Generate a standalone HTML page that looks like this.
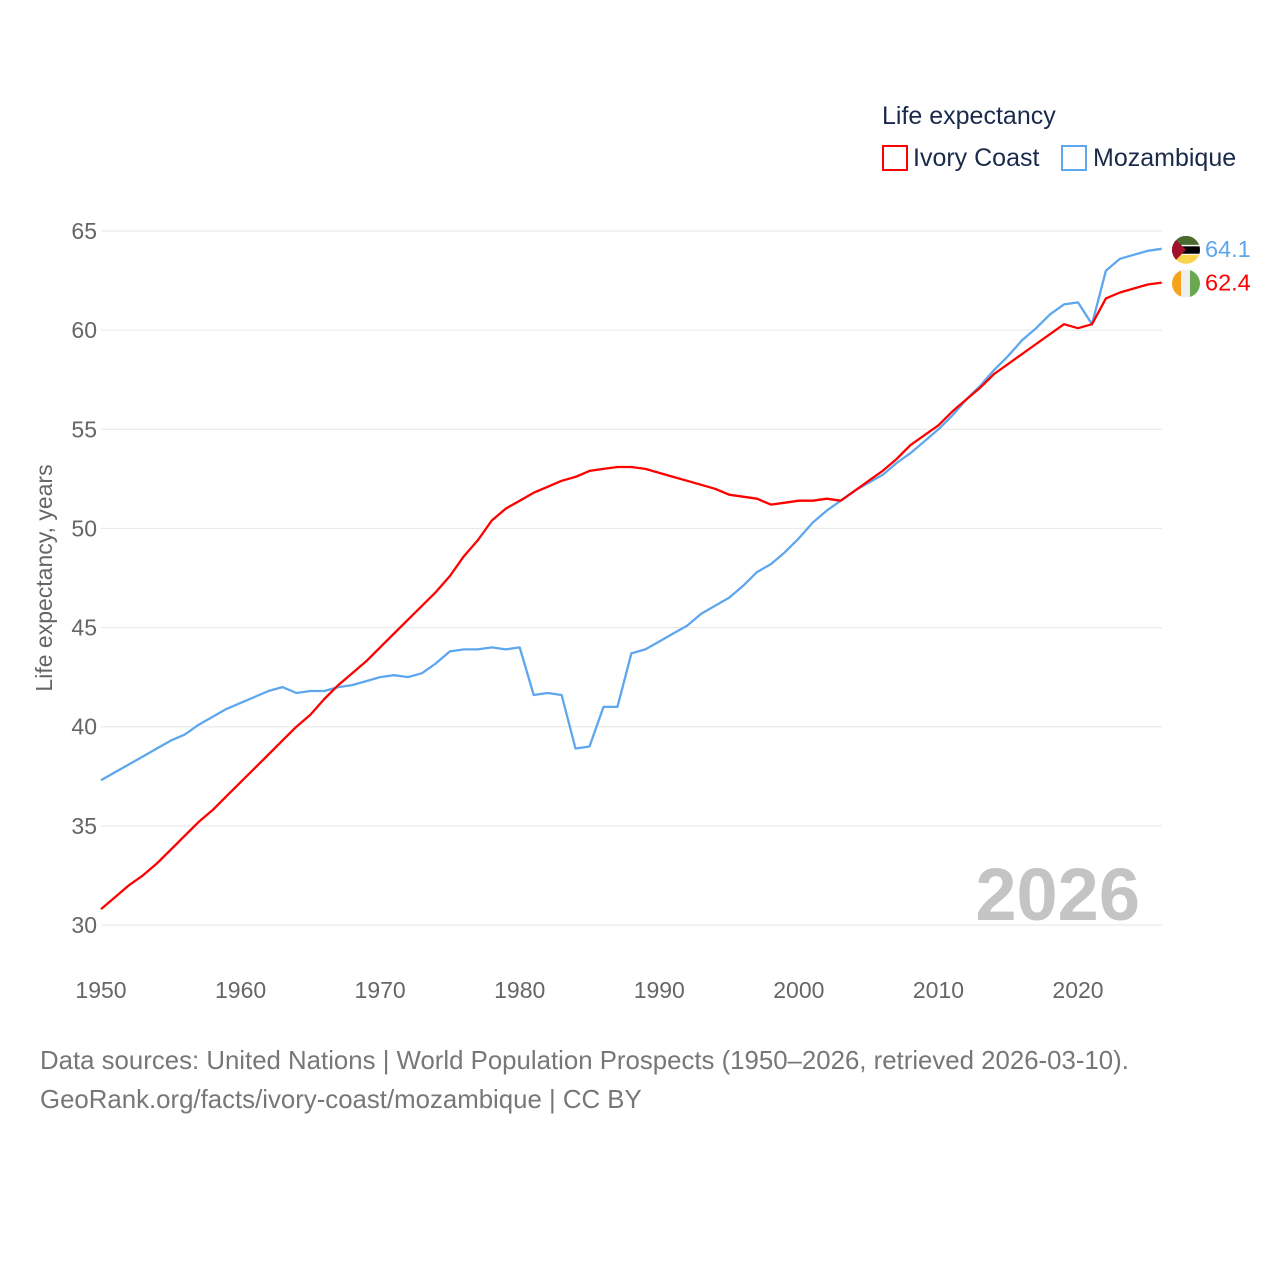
<!DOCTYPE html>
<html><head><meta charset="utf-8"><style>
body{margin:0;background:#fff;font-family:"Liberation Sans",sans-serif}
svg text{font-family:"Liberation Sans",sans-serif}
</style></head><body>
<svg id="c" width="1280" height="1280" xmlns="http://www.w3.org/2000/svg">
<rect width="1280" height="1280" fill="#fff"/>
<g id="grid"></g>
<g id="xt"></g>
<text x="52" y="578" transform="rotate(-90 52 578)" text-anchor="middle" font-size="23" fill="#666">Life expectancy, years</text>
<text x="1140" y="920" text-anchor="end" font-size="74" font-weight="bold" fill="#c4c4c4">2026</text>
<g id="lines"></g>
<text x="882" y="124" font-size="25" fill="#1a2a4a">Life expectancy</text>
<g><rect x="883" y="146" width="24" height="24" fill="none" stroke="#f00" stroke-width="2"/><text x="913" y="166" font-size="25" fill="#1a2a4a">Ivory Coast</text></g>
<g><rect x="1062" y="146" width="24" height="24" fill="none" stroke="#5ea7ee" stroke-width="2"/><text x="1093" y="166" font-size="25" fill="#1a2a4a">Mozambique</text></g>
<text x="40" y="1069" font-size="25.8" fill="#777">Data sources: United Nations | World Population Prospects (1950–2026, retrieved 2026-03-10).</text>
<text x="40" y="1108" font-size="25.8" fill="#777">GeoRank.org/facts/ivory-coast/mozambique | CC BY</text>
</svg>
<script>
const years=[];for(let y=1950;y<=2026;y++)years.push(y);
const ivoryCoast=[30.8,31.4,32.0,32.5,33.1,33.8,34.5,35.2,35.8,36.5,37.2,37.9,38.6,39.3,40.0,40.6,41.4,42.1,42.7,43.3,44.0,44.7,45.4,46.1,46.8,47.6,48.6,49.4,50.4,51.0,51.4,51.8,52.1,52.4,52.6,52.9,53.0,53.1,53.1,53.0,52.8,52.6,52.4,52.2,52.0,51.7,51.6,51.5,51.2,51.3,51.4,51.4,51.5,51.4,51.9,52.4,52.9,53.5,54.2,54.7,55.2,55.9,56.5,57.1,57.8,58.3,58.8,59.3,59.8,60.3,60.1,60.3,61.6,61.9,62.1,62.3,62.4];
const mozambique=[37.3,37.7,38.1,38.5,38.9,39.3,39.6,40.1,40.5,40.9,41.2,41.5,41.8,42.0,41.7,41.8,41.8,42.0,42.1,42.3,42.5,42.6,42.5,42.7,43.2,43.8,43.9,43.9,44.0,43.9,44.0,41.6,41.7,41.6,38.9,39.0,41.0,41.0,43.7,43.9,44.3,44.7,45.1,45.7,46.1,46.5,47.1,47.8,48.2,48.8,49.5,50.3,50.9,51.4,51.9,52.3,52.7,53.3,53.8,54.4,55.0,55.7,56.5,57.2,58.0,58.7,59.5,60.1,60.8,61.3,61.4,60.3,63.0,63.6,63.8,64.0,64.1];
const yTicks=[30,35,40,45,50,55,60,65];
const xTicks=[1950,1960,1970,1980,1990,2000,2010,2020];
const NS="http://www.w3.org/2000/svg";
const X=y=>101+(y-1950)*(1078-101)/70;
const Y=v=>925-(v-30)*(925-231)/35;
function mk(t,a,p){const e=document.createElementNS(NS,t);for(const k in a)e.setAttribute(k,a[k]);p.appendChild(e);return e;}
const grid=document.getElementById('grid');
yTicks.forEach(v=>{
  const l=mk('line',{x1:101,x2:1162,y1:Y(v),y2:Y(v),stroke:'#e6e6e6','stroke-width':1},grid);
  
  
  const t=mk('text',{x:97,y:Y(v)+8,'text-anchor':'end','font-size':23,fill:'#666'},grid);t.textContent=v;
  
  
});
const xt=document.getElementById('xt');
xTicks.forEach(v=>{
  const t=mk('text',{x:X(v),y:998,'text-anchor':'middle','font-size':23,fill:'#666'},xt);t.textContent=v;
  
  
});
const lines=document.getElementById('lines');
function series(arr,col,name){
  const d=arr.map((v,i)=>(i?'L':'M')+X(years[i]).toFixed(1)+','+Y(v).toFixed(1)).join('');
  const p=mk('path',{d:d,fill:'none',stroke:col,'stroke-width':2.3,'stroke-linejoin':'round'},lines);
  
  
}
series(mozambique,'#5ea7ee','mozambique');
series(ivoryCoast,'#f00','ivory-coast');
const lm=mozambique[mozambique.length-1], li=ivoryCoast[ivoryCoast.length-1];
const fm=mk('g',{},lines);


const cy1=Y(lm)+1;
const cpm=mk('clipPath',{id:'cm'},fm);mk('circle',{cx:1186,cy:cy1,r:14},cpm);
const gm=mk('g',{'clip-path':'url(#cm)'},fm);
mk('rect',{x:1172,y:cy1-14,width:28,height:10,fill:'#4a6b2e'},gm);
mk('rect',{x:1172,y:cy1-4,width:28,height:8,fill:'#000'},gm);
mk('rect',{x:1172,y:cy1-5,width:28,height:1.5,fill:'#fff'},gm);
mk('rect',{x:1172,y:cy1+4,width:28,height:1.5,fill:'#fff'},gm);
mk('rect',{x:1172,y:cy1+5,width:28,height:10,fill:'#fcd34d'},gm);
mk('polygon',{points:`1172,${cy1-14} 1186,${cy1} 1172,${cy1+14}`,fill:'#a0102a'},gm);
const tm=mk('text',{x:1205,y:Y(lm)+8,'font-size':23.5,fill:'#5ea7ee'},lines);tm.textContent=lm.toFixed(1);


const fi=mk('g',{},lines);


const cy2=Y(li)+1;
const cp=mk('clipPath',{id:'ci'},fi);mk('circle',{cx:1186,cy:cy2,r:14},cp);
const gi=mk('g',{'clip-path':'url(#ci)'},fi);
mk('rect',{x:1172,y:cy2-14,width:10,height:28,fill:'#f7a21b'},gi);
mk('rect',{x:1181,y:cy2-14,width:10,height:28,fill:'#eee'},gi);
mk('rect',{x:1190,y:cy2-14,width:10,height:28,fill:'#6aa84f'},gi);
const ti=mk('text',{x:1205,y:Y(li)+8,'font-size':23.5,fill:'#f00'},lines);ti.textContent=li.toFixed(1);


</script>
</body></html>
